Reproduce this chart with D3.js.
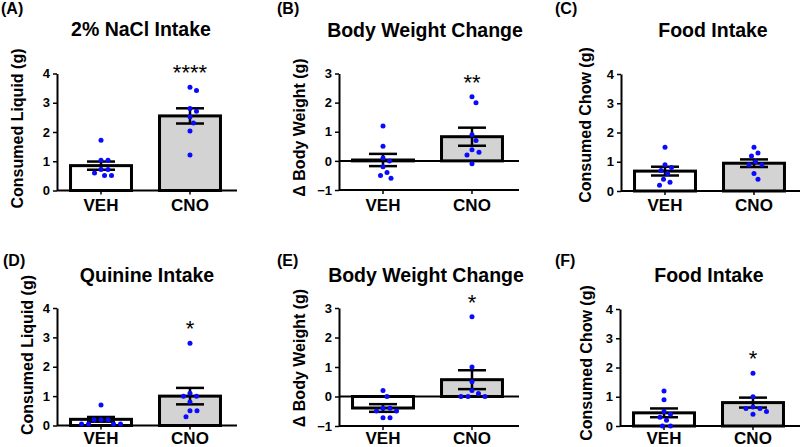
<!DOCTYPE html>
<html><head><meta charset="utf-8">
<script src="https://cdn.jsdelivr.net/npm/d3@7"></script>
<style>
body{margin:0;background:#fff;}
text{font-family:"Liberation Sans",Arial,sans-serif;fill:#000;}
</style></head>
<body><svg id="chart" width="800" height="447"></svg>
<script>
// ---------- data ----------
const panelLetters = ["(A)","(B)","(C)","(D)","(E)","(F)"];
const titles = ["2% NaCl Intake","Body Weight Change","Food Intake","Quinine Intake","Body Weight Change","Food Intake"];
const yLabels = ["Consumed Liquid (g)","\u0394 Body Weight (g)","Consumed Chow (g)","Consumed Liquid (g)","\u0394 Body Weight (g)","Consumed Chow (g)"];
const categories = ["VEH","CNO"];
const yDomains = [[0,4],[-1,3],[0,4],[0,4],[-1,3],[0,4]];
const yTickValues = [[0,1,2,3,4],[-1,0,1,2,3],[0,1,2,3,4],[0,1,2,3,4],[-1,0,1,2,3],[0,1,2,3,4]];
const meansVEH = [0.85, 0.03, 0.68, 0.21, -0.39, 0.45];
const meansCNO = [2.55, 0.83, 0.95, 1.00, 0.57, 0.80];
const semVEH = [0.14, 0.21, 0.15, 0.08, 0.13, 0.15];
const semCNO = [0.26, 0.31, 0.13, 0.28, 0.32, 0.17];
const pointsVEH = [
  [1.72,1.03,1.03,0.72,0.72,0.60,0.51,0.51],
  [1.2,0.5,0.1,0.0,-0.2,-0.4,-0.5,-0.6],
  [1.5,0.9,0.8,0.7,0.6,0.4,0.3,0.2],
  [0.7,0.2,0.2,0.2,0.05,0.05,0.05,0.05],
  [0.2,0.0,-0.4,-0.4,-0.49,-0.49,-0.72,-0.72],
  [1.2,0.9,0.5,0.4,0.3,0.2,0.0,0.0]
];
const pointsCNO = [
  [3.53,3.42,2.80,2.71,2.52,2.31,2.03,1.21],
  [2.2,2.0,0.9,0.7,0.38,0.3,0.2,-0.1],
  [1.5,1.3,1.2,1.0,0.9,0.9,0.6,0.4],
  [2.8,1.1,1.0,1.0,0.8,0.5,0.5,0.3],
  [2.7,1.0,0.5,0.2,0.1,0.0,0.0,0.0],
  [1.8,1.0,0.65,0.6,0.6,0.5,0.4]
];
const stars = ["****","**","","*","*","*"];

// ---------- layout ----------
const layout = [
  {ax:57,  top:73.5, bot:190.5, tx:141, ty:36,  lx:1,   ly:14,  yx:23,  yy:128.5, xl:210.5},
  {ax:339, top:73.5, bot:190,   tx:425, ty:36.5,lx:277, ly:14,  yx:305, yy:127.5, xl:210.5},
  {ax:621, top:74,   bot:191,   tx:713, ty:36.5,lx:555, ly:14,  yx:591, yy:125,   xl:210.5},
  {ax:57,  top:308,  bot:425.5, tx:147, ty:282, lx:3,   ly:266, yx:33,  yy:355,   xl:443.5},
  {ax:339, top:308,  bot:426,   tx:426, ty:282, lx:277, ly:266, yx:305, yy:358,   xl:443.5},
  {ax:620, top:309,  bot:426,   tx:709, ty:282, lx:555, ly:266, yx:592, yy:363,   xl:443.5}
];

const svg = d3.select("#chart");
const dotColor = "#0a0aff";

function swarm(vals, y, cx, minDist) {
  const placed = [];
  return vals.map(v => {
    const py = y(v);
    let chosen = 0;
    for (let k = 0; k < 400; k++) {
      const off = (k % 2 === 1 ? 1 : -1) * Math.ceil(k / 2) * 0.5;
      const ok = placed.every(p => (p.x - (cx+off))**2 + (p.y - py)**2 >= minDist*minDist);
      if (ok) { chosen = off; break; }
    }
    const pt = {x: cx + chosen, y: py};
    placed.push(pt);
    return pt;
  });
}

layout.forEach((L, i) => {
  const g = svg.append("g");
  const y = d3.scaleLinear().domain(yDomains[i]).range([L.bot, L.top]);
  const x = d3.scaleBand().domain(categories).range([L.ax, L.ax + 177])
              .paddingInner(0.315).paddingOuter(0.152);
  const bw = x.bandwidth();
  const xEnd = L.ax + 180;

  // bars
  const means = [meansVEH[i], meansCNO[i]];
  const sems = [semVEH[i], semCNO[i]];
  categories.forEach((c, j) => {
    const m = means[j];
    g.append("rect")
      .attr("x", x(c)).attr("width", bw)
      .attr("y", y(Math.max(0, m)))
      .attr("height", Math.max(0.5, Math.abs(y(m) - y(0))))
      .attr("fill", j === 0 ? "#ffffff" : "#d3d3d3")
      .attr("stroke", "#000").attr("stroke-width", 3);
  });

  // zero line and bottom axis
  g.append("line").attr("x1", L.ax).attr("x2", xEnd)
    .attr("y1", y(0)).attr("y2", y(0)).attr("stroke", "#000").attr("stroke-width", 2);
  if (yDomains[i][0] < 0) {
    g.append("line").attr("x1", L.ax).attr("x2", xEnd)
      .attr("y1", L.bot).attr("y2", L.bot).attr("stroke", "#000").attr("stroke-width", 2);
  }
  categories.forEach(c => {
    g.append("line").attr("x1", x(c) + bw/2).attr("x2", x(c) + bw/2)
      .attr("y1", L.bot).attr("y2", L.bot + 4).attr("stroke", "#000").attr("stroke-width", 1.5);
    g.append("text").attr("x", x(c) + bw/2).attr("y", L.xl)
      .attr("text-anchor", "middle").attr("font-size", 17).attr("font-weight", "bold").text(c);
  });

  // y axis
  const yAxis = d3.axisLeft(y).tickValues(yTickValues[i]).tickFormat(d3.format("d"))
                  .tickSize(4).tickSizeOuter(0).tickPadding(3);
  const ag = g.append("g").attr("transform", `translate(${L.ax},0)`).call(yAxis);
  ag.select(".domain").attr("stroke-width", 2);
  ag.selectAll(".tick line").attr("stroke-width", 1.5);
  ag.selectAll(".tick text").attr("font-size", 13).attr("font-weight", "bold")
    .attr("font-family", "Liberation Sans, Arial, sans-serif");

  // error bars
  categories.forEach((c, j) => {
    const cx = x(c) + bw/2, m = means[j], s = sems[j];
    const capW = 14;
    g.append("line").attr("x1", cx).attr("x2", cx).attr("y1", y(m - s)).attr("y2", y(m + s))
      .attr("stroke", "#000").attr("stroke-width", 2.5);
    [m - s, m + s].forEach(v => {
      g.append("line").attr("x1", cx - capW).attr("x2", cx + capW).attr("y1", y(v)).attr("y2", y(v))
        .attr("stroke", "#000").attr("stroke-width", 2.5);
    });
  });

  // dots
  const allPts = [pointsVEH[i], pointsCNO[i]];
  categories.forEach((c, j) => {
    const pts = swarm(allPts[j], y, x(c) + bw/2, 7);
    g.selectAll(null).data(pts).enter().append("circle")
      .attr("cx", d => d.x).attr("cy", d => d.y).attr("r", 2.5).attr("fill", dotColor);
  });

  // significance
  if (stars[i]) {
    const topCNO = y(d3.max(pointsCNO[i]));
    g.append("text").attr("x", x("CNO") + bw/2).attr("y", topCNO - 7)
      .attr("text-anchor", "middle").attr("font-size", 22).text(stars[i]);
  }

  // titles, letters, y labels
  g.append("text").attr("x", L.tx).attr("y", L.ty).attr("text-anchor", "middle")
    .attr("font-size", 19.5).attr("font-weight", "bold").text(titles[i]);
  g.append("text").attr("x", L.lx).attr("y", L.ly)
    .attr("font-size", 16).attr("font-weight", "bold").text(panelLetters[i]);
  g.append("text").attr("transform", `translate(${L.yx},${L.yy}) rotate(-90)`)
    .attr("text-anchor", "middle").attr("font-size", 16).attr("font-weight", "bold").text(yLabels[i]);
});
</script></body></html>
